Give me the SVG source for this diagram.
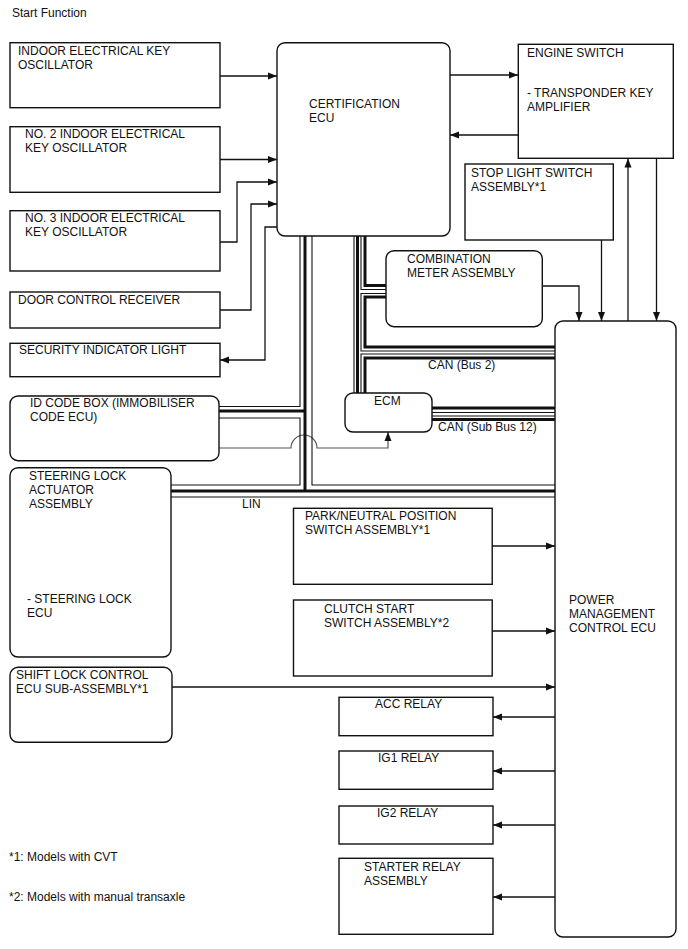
<svg xmlns="http://www.w3.org/2000/svg" width="688" height="949" viewBox="0 0 688 949">
<style>
text{font-family:"Liberation Sans",Arial,sans-serif;font-size:12px;fill:#111}
.box{fill:#fff;stroke:#111;stroke-width:1.4}
.c{fill:none;stroke:#111;stroke-width:1.3}
.g{fill:none;stroke:#555;stroke-width:1.2}
.t{fill:none;stroke:#111;stroke-width:1.1}
.k{fill:none;stroke:#111;stroke-width:3}
</style>
<defs>
<marker id="ah" markerWidth="9" markerHeight="8" refX="9" refY="4" orient="auto" markerUnits="userSpaceOnUse">
<path d="M0,0.5 L9,4 L0,7.5 z" fill="#111"/>
</marker>
</defs>
<rect width="688" height="949" fill="#fff"/>
<text x="12" y="17">Start Function</text>

<g id="connectors">
<path class="c" d="M220,76 H277" marker-end="url(#ah)"/>
<path class="c" d="M220,159.5 H277" marker-end="url(#ah)"/>
<path class="c" d="M220,242 H237 V182 H277" marker-end="url(#ah)"/>
<path class="c" d="M220,310 H251 V204 H277" marker-end="url(#ah)"/>
<path class="c" d="M277,227 H265 V360 H220" marker-end="url(#ah)"/>
<path class="c" d="M450,75 H518" marker-end="url(#ah)"/>
<path class="c" d="M518,135 H450" marker-end="url(#ah)"/>
<path class="c" d="M601.5,240 V321" marker-end="url(#ah)"/>
<path class="c" d="M542,286 H579 V321" marker-end="url(#ah)"/>
<path class="c" d="M628,321 V158.5" marker-end="url(#ah)"/>
<path class="c" d="M656.5,158.5 V321" marker-end="url(#ah)"/>
<path class="c" d="M492,546 H555" marker-end="url(#ah)"/>
<path class="c" d="M492,631 H555" marker-end="url(#ah)"/>
<path class="c" d="M172,687 H555" marker-end="url(#ah)"/>
<path class="c" d="M555,717 H493" marker-end="url(#ah)"/>
<path class="c" d="M555,771 H493" marker-end="url(#ah)"/>
<path class="c" d="M555,825 H493" marker-end="url(#ah)"/>
<path class="c" d="M555,897 H493" marker-end="url(#ah)"/>
<path class="g" d="M219,448 H291 A13,13 0 0 1 317,448 H388 V432" marker-end="url(#ah)"/>
<!-- LIN bus -->
<path class="t" d="M300,236 V406.5 H219"/>
<path class="k" d="M305,236 V491"/>
<path class="k" d="M219,411 H305"/>
<path class="t" d="M219,418 H300 V485 H171"/>
<path class="t" d="M312,236 V485 H555"/>
<path class="k" d="M171,491 H555"/>
<path class="t" d="M171,497 H555"/>
<!-- CAN bus -->
<path class="t" d="M354,236 V393"/>
<path class="k" d="M357.5,236 V393"/>
<path class="k" d="M365,236 V285.5 H386"/>
<path class="t" d="M361,236 V289.5 H386"/>
<path class="t" d="M386,293.5 H361 V351 H555"/>
<path class="k" d="M386,297 H365 V347 H555"/>
<path class="t" d="M555,354 H361 V393"/>
<path class="k" d="M555,358 H365 V393"/>
<path class="k" d="M432,408 H555"/>
<path class="t" d="M432,412.5 H555"/>
<path class="t" d="M432,416 H555"/>
<path class="k" d="M432,419.5 H555"/>
</g>
<text x="242" y="508">LIN</text>
<text x="428" y="369">CAN (Bus 2)</text>
<text x="438" y="431">CAN (Sub Bus 12)</text>

<g id="indoor1"><rect class="box" x="10" y="42.7" width="210" height="65"/>
<text x="18" y="55">INDOOR ELECTRICAL KEY</text><text x="18" y="69">OSCILLATOR</text></g>
<g id="indoor2"><rect class="box" x="10" y="126.7" width="210" height="65.6"/>
<text x="25" y="138">NO. 2 INDOOR ELECTRICAL</text><text x="25" y="152">KEY OSCILLATOR</text></g>
<g id="indoor3"><rect class="box" x="10" y="210.7" width="210" height="60.3"/>
<text x="25" y="222">NO. 3 INDOOR ELECTRICAL</text><text x="25" y="236">KEY OSCILLATOR</text></g>
<g id="door"><rect class="box" x="10" y="292" width="210" height="36"/>
<text x="18" y="304">DOOR CONTROL RECEIVER</text></g>
<g id="security"><rect class="box" x="10" y="343.3" width="210" height="33.4"/>
<text x="19" y="354">SECURITY INDICATOR LIGHT</text></g>
<g id="idcode"><rect class="box" x="10" y="396" width="209" height="64.7" rx="8"/>
<text x="30" y="407">ID CODE BOX (IMMOBILISER</text><text x="30" y="421">CODE ECU)</text></g>
<g id="steering"><rect class="box" x="10" y="467.7" width="161" height="189.3" rx="8"/>
<text x="29" y="480">STEERING LOCK</text><text x="29" y="494">ACTUATOR</text><text x="29" y="508">ASSEMBLY</text>
<text x="27" y="603">- STEERING LOCK</text><text x="27" y="617">ECU</text></g>
<g id="shiftlock"><rect class="box" x="10" y="667.3" width="162" height="75" rx="8"/>
<text x="16" y="679">SHIFT LOCK CONTROL</text><text x="16" y="693">ECU SUB-ASSEMBLY*1</text></g>

<g id="certecu"><rect class="box" x="277" y="42.7" width="173" height="193.3" rx="8"/>
<text x="309" y="108">CERTIFICATION</text><text x="309" y="122">ECU</text></g>
<g id="engine"><rect class="box" x="518.3" y="44.3" width="155" height="114"/>
<text x="527" y="57">ENGINE SWITCH</text><text x="527" y="97">- TRANSPONDER KEY</text><text x="527" y="111">AMPLIFIER</text></g>
<g id="stoplight"><rect class="box" x="465" y="164" width="148.3" height="76"/>
<text x="471" y="177">STOP LIGHT SWITCH</text><text x="471" y="191">ASSEMBLY*1</text></g>
<g id="meter"><rect class="box" x="386" y="250.7" width="156.3" height="76" rx="8"/>
<text x="407" y="263">COMBINATION</text><text x="407" y="277">METER ASSEMBLY</text></g>
<g id="ecm"><rect class="box" x="345" y="393" width="87" height="39" rx="8"/>
<text x="374" y="405">ECM</text></g>
<g id="park"><rect class="box" x="293.5" y="508.3" width="198.7" height="76"/>
<text x="305" y="520">PARK/NEUTRAL POSITION</text><text x="305" y="534">SWITCH ASSEMBLY*1</text></g>
<g id="clutch"><rect class="box" x="293.5" y="600" width="198.7" height="76"/>
<text x="324" y="613">CLUTCH START</text><text x="324" y="627">SWITCH ASSEMBLY*2</text></g>
<g id="pmc"><rect class="box" x="555" y="321" width="121" height="616" rx="8"/>
<text x="569" y="604">POWER</text><text x="569" y="618">MANAGEMENT</text><text x="569" y="632">CONTROL ECU</text></g>
<g id="acc"><rect class="box" x="339" y="697.3" width="154" height="38.4"/>
<text x="375" y="708">ACC RELAY</text></g>
<g id="ig1"><rect class="box" x="339" y="751" width="154" height="38.3"/>
<text x="378" y="762">IG1 RELAY</text></g>
<g id="ig2"><rect class="box" x="339" y="806" width="154" height="38"/>
<text x="377" y="817">IG2 RELAY</text></g>
<g id="starter"><rect class="box" x="339" y="858.3" width="154" height="76"/>
<text x="364" y="871">STARTER RELAY</text><text x="364" y="885">ASSEMBLY</text></g>

<text x="9" y="861">*1: Models with CVT</text>
<text x="9" y="901">*2: Models with manual transaxle</text>
</svg>
